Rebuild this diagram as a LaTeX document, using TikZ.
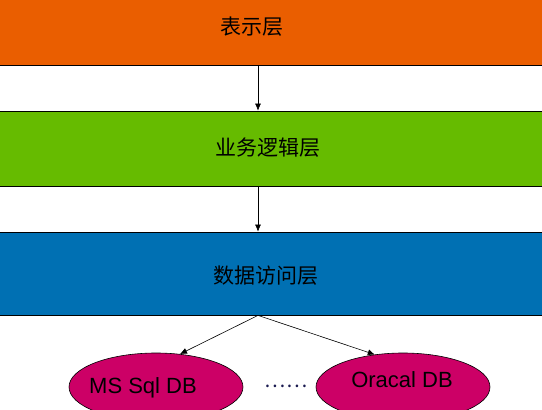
\documentclass[tikz,border=0pt]{standalone}
\usepackage{fontspec}
\setmainfont{Liberation Sans}
\newfontfamily\cjk{Noto Sans CJK SC}
\usetikzlibrary{shapes.geometric,arrows.meta}
\definecolor{bandorange}{HTML}{EA5E00}
\definecolor{bandgreen}{HTML}{66BB00}
\definecolor{bandblue}{HTML}{0070B3}
\definecolor{dbmag}{HTML}{CC0066}
\definecolor{dotblue}{HTML}{1A1A50}
\tikzset{
  band/.style={draw=black, line width=0.8pt, minimum width=620pt, inner sep=0pt},
  bandtext/.style={font=\cjk\fontsize{21}{24}\selectfont, text=black, inner sep=0pt},
  db/.style={ellipse, draw=black, line width=0.6pt, fill=dbmag, minimum width=174pt, minimum height=68pt, inner sep=0pt},
  dbtext/.style={font=\fontsize{22}{26}\selectfont, text=black, inner sep=0pt},
  conn/.style={draw=black, line width=0.6pt, -{Latex[length=7pt,width=6pt]}}
}
\begin{document}
\begin{tikzpicture}[x=1pt,y=-1pt]
\useasboundingbox (0,0) rectangle (542,410);
\begin{scope}
\clip (0,0) rectangle (542,410);
\node[band, fill=bandorange, minimum height=80pt] (pres) at (258,25) {};
\node[band, fill=bandgreen, minimum height=75pt] (biz) at (258,148.5) {};
\node[band, fill=bandblue, minimum height=83pt] (dal) at (258,273.5) {};
\node[bandtext] (prest) at (252,27) {表示层};
\node[bandtext] (bizt) at (268,148) {业务逻辑层};
\node[bandtext] (dalt) at (266,276) {数据访问层};
\node[db] (ms) at (156,387) {};
\node[db] (ora) at (403,387) {};
\node[dbtext] (mst) at (143,388) {MS Sql DB};
\node[dbtext] (orat) at (402,380) {Oracal DB};
\node[font=\cjk\fontsize{20}{24}\selectfont, text=dotblue, inner sep=0pt] (dots) at (286,386) {……};
\draw[conn] (pres.south) -- (biz.north);
\draw[conn] (biz.south) -- (dal.north);
\draw[conn] (dal.south) -- (ms.54);
\draw[conn] (dal.south) -- (ora.131);
\end{scope}
\end{tikzpicture}
\end{document}
